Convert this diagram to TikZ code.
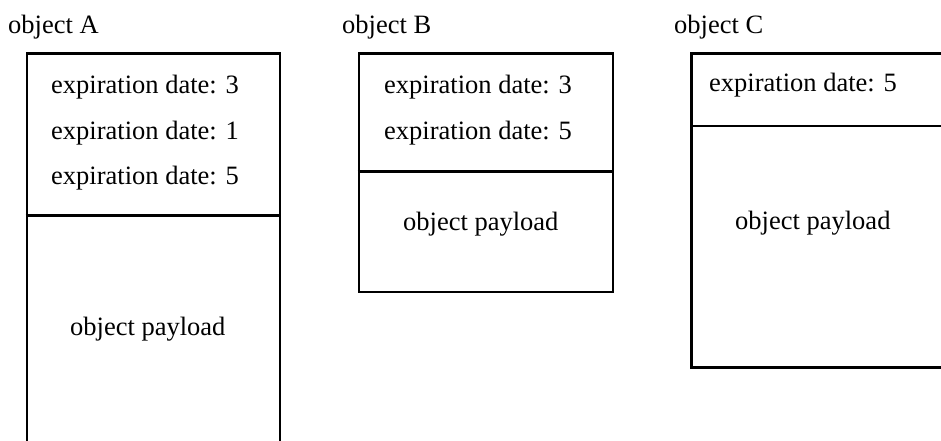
\documentclass[tikz,border=0pt]{standalone}
\usepackage{fontspec}
\setmainfont{Liberation Serif}
\begin{document}
\begin{tikzpicture}[x=1pt,y=-1pt,
  frame/.style={draw=black,line width=2.6pt,rectangle,inner sep=0pt,anchor=north west},
  sep/.style={line width=2.6pt},
  lbl/.style={inner sep=0pt,anchor=base west,font=\fontsize{26.5}{30}\selectfont}]
\useasboundingbox (0,0) rectangle (941,440);
\clip (0,0) rectangle (941,440);

% titles
\node[lbl] (ta) at (8,33) {object A};
\node[lbl] (tb) at (342,33) {object B};
\node[lbl] (tc) at (674,33) {object C};

% object A
\node[frame,minimum width=253pt,minimum height=430pt] (boxa) at (25.5,52) {};
\coordinate (adl) at (25.5,215.5);
\coordinate (adr) at (278.5,215.5);
\draw[sep] (adl) -- (adr);
\node[lbl] (a1) at (51,93) {expiration date: 3};
\node[lbl] (a2) at (51,139) {expiration date: 1};
\node[lbl] (a3) at (51,184) {expiration date: 5};
\node[lbl] (ap) at (70,335) {object payload};

% object B
\node[frame,minimum width=254pt,minimum height=238.5pt] (boxb) at (357.5,52) {};
\coordinate (bdl) at (357.5,171.5);
\coordinate (bdr) at (611.5,171.5);
\draw[sep] (bdl) -- (bdr);
\node[lbl] (b1) at (384,93) {expiration date: 3};
\node[lbl] (b2) at (384,139) {expiration date: 5};
\node[lbl] (bp) at (403,230) {object payload};

% object C
\node[frame,minimum width=280pt,minimum height=314pt] (boxc) at (690,52) {};
\coordinate (cdl) at (690,126);
\coordinate (cdr) at (970,126);
\draw[sep] (cdl) -- (cdr);
\node[lbl] (c1) at (709,91) {expiration date: 5};
\node[lbl] (cp) at (735,229) {object payload};
\end{tikzpicture}
\end{document}
